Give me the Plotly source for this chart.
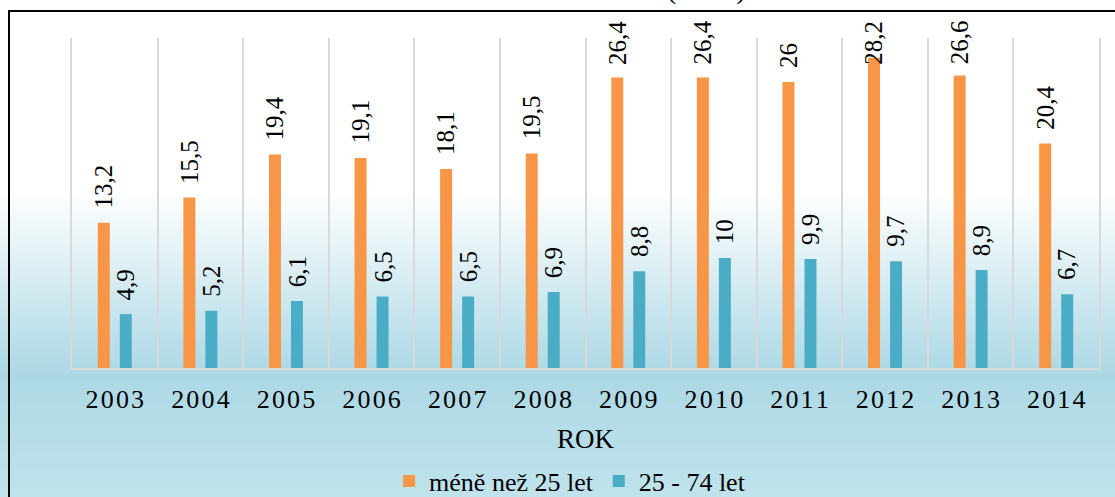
import plotly.graph_objects as go

# data
years = ["2003", "2004", "2005", "2006", "2007", "2008",
         "2009", "2010", "2011", "2012", "2013", "2014"]
under_25 = [13.2, 15.5, 19.4, 19.1, 18.1, 19.5, 26.4, 26.4, 26.0, 28.2, 26.6, 20.4]
age_25_74 = [4.9, 5.2, 6.1, 6.5, 6.5, 6.9, 8.8, 10.0, 9.9, 9.7, 8.9, 6.7]
series_names = ["méně než 25 let", "25 - 74 let"]

W, H = 1115, 497
L, R, T, B = 72, 16, 38, 129
plot_h = H - T - B
SERIF = "Liberation Serif, Times New Roman, serif"


def py_to_paper(py):
    return (H - B - py) / plot_h


def px_to_paper(px):
    return (px - L) / (W - L - R)


def fmt(v):
    return f"{v:g}".replace(".", ",")


# gradient background (white -> light blue -> slightly lighter)
stops = [(0, (255, 255, 255)), (190, (255, 255, 255)),
         (375, (172, 216, 229)), (497, (192, 227, 235))]


def grad_color(y):
    for (y0, c0), (y1, c1) in zip(stops, stops[1:]):
        if y0 <= y <= y1:
            t = (y - y0) / (y1 - y0) if y1 > y0 else 0
            c = [round(a + (b - a) * t) for a, b in zip(c0, c1)]
            return f"rgb({c[0]},{c[1]},{c[2]})"
    return "rgb(192,227,235)"


shapes = []
step = 3
for y in range(10, H, step):
    shapes.append(dict(type="rect", xref="paper", yref="paper",
                       x0=px_to_paper(0), x1=px_to_paper(W + 5),
                       y0=py_to_paper(y + step + 0.5), y1=py_to_paper(y),
                       line=dict(width=0), fillcolor=grad_color(y + step / 2),
                       layer="below"))

# chart frame
shapes.append(dict(type="rect", xref="paper", yref="paper",
                   x0=px_to_paper(9), x1=px_to_paper(W + 40),
                   y0=py_to_paper(H + 40), y1=py_to_paper(11),
                   line=dict(color="black", width=2), layer="below"))

fig = go.Figure()
colors = ["#F79646", "#4BACC6"]
for name, vals, col in zip(series_names, [under_25, age_25_74], colors):
    fig.add_trace(go.Bar(x=years, y=vals, name=name, marker_color=col,
                         marker_line_width=0))

# data labels, rotated, kept inside the chart area
annotations = []
for vals, shift in [(under_25, -11), (age_25_74, 11)]:
    for i, v in enumerate(vals):
        annotations.append(dict(x=i, y=min(v, 26.3), xref="x", yref="y",
                                text=fmt(v), showarrow=False, textangle=-90,
                                xshift=shift, yshift=12, yanchor="bottom",
                                font=dict(family=SERIF, size=25, color="black")))

# title mostly cut off at the top edge
annotations.append(dict(x=px_to_paper(748), y=py_to_paper(7), xref="paper", yref="paper",
                        text="Míra nezaměstnanosti ( v % )", showarrow=False,
                        xanchor="right", yanchor="bottom",
                        font=dict(family=SERIF, size=29, color="black")))

fig.update_layout(
    width=W, height=H,
    margin=dict(l=L, r=R, t=T, b=B, autoexpand=False),
    paper_bgcolor="white",
    plot_bgcolor="rgba(0,0,0,0)",
    barmode="group",
    bargap=0.486,
    bargroupgap=0.455,
    shapes=shapes,
    annotations=annotations,
    showlegend=True,
    legend=dict(orientation="h", x=0.485, xanchor="center", y=py_to_paper(481),
                yanchor="middle", font=dict(family=SERIF, size=26, color="black"),
                bgcolor="rgba(0,0,0,0)"),
    xaxis=dict(type="category", range=[-0.5, len(years) - 0.5], autorange=False,
               tickson="boundaries", ticks="",
               showgrid=True, gridcolor="#d9d9d9", gridwidth=1.5,
               showline=True, linecolor="#d9d9d9", linewidth=2,
               tickvals=years, ticktext=["\u200a".join(y) for y in years],
               tickangle=0, automargin=False,
               tickfont=dict(family=SERIF, size=26, color="black"),
               ticklabelstandoff=7,
               title=dict(text="ROK", font=dict(family=SERIF, size=27, color="black"),
                          standoff=16)),
    yaxis=dict(range=[0, 30], showgrid=False, zeroline=False, showticklabels=False,
               showline=True, mirror=True, linecolor="#d9d9d9", linewidth=1.5),
)

fig.write_html("out.html", config={"displayModeBar": False},
               post_script="document.body.style.margin = '0';")
